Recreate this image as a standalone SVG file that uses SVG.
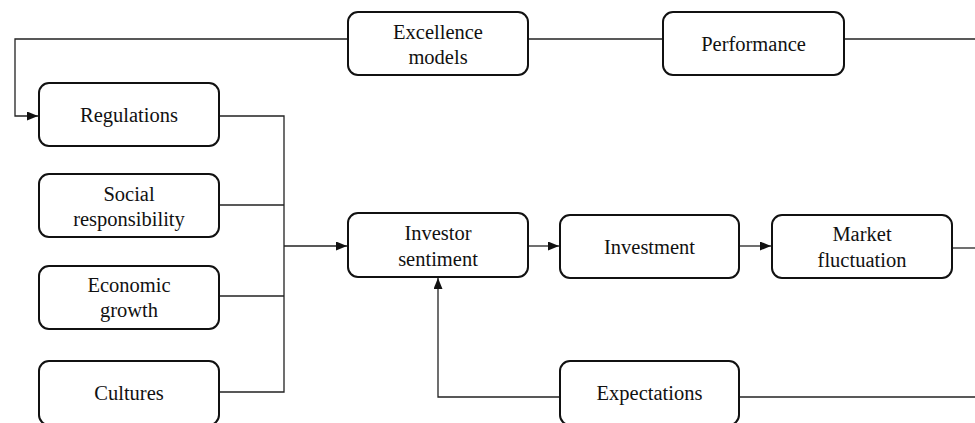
<svg xmlns="http://www.w3.org/2000/svg" width="975" height="423" viewBox="0 0 975 423">
<style>
.box{fill:#fff;stroke:#111;stroke-width:2}
.t{font-family:'Liberation Serif','DejaVu Serif',serif;font-size:20.5px;fill:#111;text-anchor:middle}
.c{fill:none;stroke:#222;stroke-width:1.3}
</style>
<defs>
<marker id="ah" markerWidth="11" markerHeight="9" refX="11" refY="4.5" orient="auto" markerUnits="userSpaceOnUse">
<path d="M0,0 L11,4.5 L0,9 Z" fill="#111"/>
</marker>
</defs>
<rect width="975" height="423" fill="#fff"/>
<g id="connectors">
<path class="c" d="M348,39 H15 V116 H38" marker-end="url(#ah)"/>
<path class="c" d="M528,39 H663"/>
<path class="c" d="M844,39 H975"/>
<path class="c" d="M219,116 H284 V392 H219"/>
<path class="c" d="M219,205 H284"/>
<path class="c" d="M219,296 H284"/>
<path class="c" d="M284,246 H347" marker-end="url(#ah)"/>
<path class="c" d="M528,246 H559" marker-end="url(#ah)"/>
<path class="c" d="M739,246 H771" marker-end="url(#ah)"/>
<path class="c" d="M952,248 H975"/>
<path class="c" d="M560,397 H438 V278" marker-end="url(#ah)"/>
<path class="c" d="M739,397 H975"/>
</g>
<g id="excellence">
<rect class="box" x="348" y="12" width="180" height="63" rx="10"/>
<text class="t" x="438" y="39">Excellence</text>
<text class="t" x="438" y="64">models</text>
</g>
<g id="performance">
<rect class="box" x="663" y="12" width="181" height="63" rx="10"/>
<text class="t" x="753.5" y="51">Performance</text>
</g>
<g id="regulations">
<rect class="box" x="39" y="83" width="180" height="63" rx="10"/>
<text class="t" x="129" y="122">Regulations</text>
</g>
<g id="social">
<rect class="box" x="39" y="174" width="180" height="63" rx="10"/>
<text class="t" x="129" y="201">Social</text>
<text class="t" x="129" y="226">responsibility</text>
</g>
<g id="economic">
<rect class="box" x="39" y="266" width="180" height="63" rx="10"/>
<text class="t" x="129" y="292">Economic</text>
<text class="t" x="129" y="317">growth</text>
</g>
<g id="cultures">
<rect class="box" x="39" y="361" width="180" height="64" rx="10"/>
<text class="t" x="129" y="400">Cultures</text>
</g>
<g id="investor">
<rect class="box" x="348" y="213" width="180" height="64" rx="10"/>
<text class="t" x="438" y="240">Investor</text>
<text class="t" x="438" y="266">sentiment</text>
</g>
<g id="investment">
<rect class="box" x="560" y="215" width="179" height="63" rx="10"/>
<text class="t" x="649.5" y="254">Investment</text>
</g>
<g id="market">
<rect class="box" x="772" y="215" width="180" height="63" rx="10"/>
<text class="t" x="862" y="241">Market</text>
<text class="t" x="862" y="267">fluctuation</text>
</g>
<g id="expectations">
<rect class="box" x="560" y="361" width="179" height="64" rx="10"/>
<text class="t" x="649.5" y="400">Expectations</text>
</g>
</svg>
